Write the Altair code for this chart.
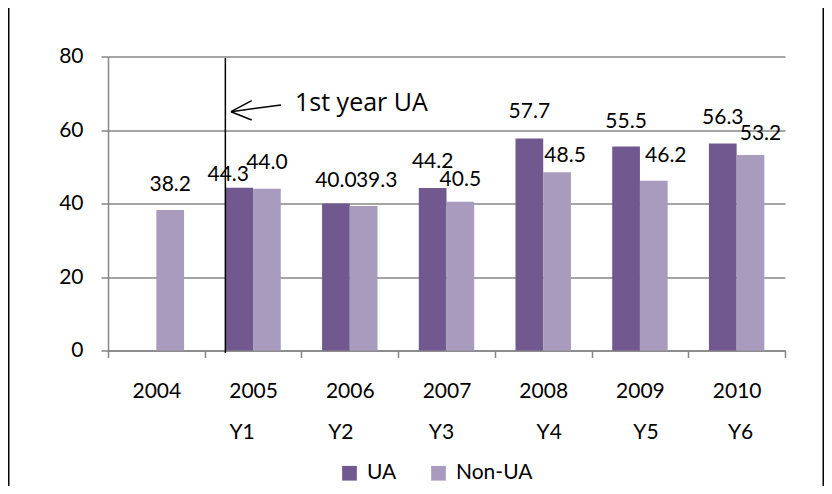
import altair as alt
import pandas as pd

# ---- data ----
years = ["2004", "2005", "2006", "2007", "2008", "2009", "2010"]
ua_values = [None, 44.3, 40.0, 44.2, 57.7, 55.5, 56.3]
non_ua_values = [38.2, 44.0, 39.3, 40.5, 48.5, 46.2, 53.2]
period_labels = ["", "Y1", "Y2", "Y3", "Y4", "Y5", "Y6"]
series_names = ["UA", "Non-UA"]
series_colors = ["#71588F", "#A99BBD"]
annotation_text = "1st year UA"
first_ua_year = "2005"

# hand-placed label nudges (pixels), as in the original Excel chart
ua_label_dx = [0, -11, 0, 0, 0, 0, 0]
ua_label_dy = [-25, -13, -23, -26, -26, -25, -26]
non_ua_label_dx = [0, 0, 13, 0, 8, 12, 10]
non_ua_label_dy = [-25, -26, -25, -22, -16, -25, -21]
period_label_dx = [0, -11, -9, -5, 6, 6, 4]

FONT = "Lato"
GRID = "#868686"

rows = []
for i, y in enumerate(years):
    rows.append({"year": y, "series": "UA", "value": ua_values[i],
                 "ldx": ua_label_dx[i], "ldy": ua_label_dy[i]})
    rows.append({"year": y, "series": "Non-UA", "value": non_ua_values[i],
                 "ldx": non_ua_label_dx[i], "ldy": non_ua_label_dy[i]})
df = pd.DataFrame(rows)
df["label"] = df["value"].map(lambda v: "" if pd.isna(v) else f"{v:.1f}")

period_df = pd.DataFrame({"year": years, "period": period_labels, "pdx": period_label_dx})

x_enc = alt.X(
    "year:N",
    sort=years,
    scale=alt.Scale(paddingInner=0, paddingOuter=0),
    axis=alt.Axis(
        title=None, labelFont=FONT, labelFontSize=21, labelColor="black",
        labelAngle=0, labelBaseline="middle", labelPadding=33.5,
        tickBand="extent", tickSize=7, tickColor=GRID, tickWidth=1.5,
        domainColor=GRID, domainWidth=1.5, grid=False,
    ),
)
xoff = alt.XOffset("series:N", sort=series_names,
                   scale=alt.Scale(domain=series_names, paddingInner=0, paddingOuter=0.745))
y_enc = alt.Y(
    "value:Q",
    scale=alt.Scale(domain=[0, 80], nice=False),
    axis=alt.Axis(
        title=None, values=[0, 20, 40, 60, 80], labelFont=FONT, labelFontSize=21,
        labelColor="black", labelPadding=18, tickSize=7, tickColor=GRID, tickWidth=1.5,
        domainColor=GRID, domainWidth=1.5, grid=True, gridColor=GRID, gridWidth=1.5,
    ),
)

bars = alt.Chart(df).mark_bar().encode(
    x=x_enc,
    xOffset=xoff,
    y=y_enc,
    color=alt.Color(
        "series:N",
        scale=alt.Scale(domain=series_names, range=series_colors),
        legend=alt.Legend(
            title=None, orient="none", direction="horizontal", legendX=231, legendY=406,
            symbolType="square", symbolSize=216, symbolStrokeWidth=0, padding=0,
            labelFont=FONT, labelFontSize=21, labelColor="black", labelOffset=7,
            columnPadding=31,
        ),
    ),
)

labels = alt.Chart(df).mark_text(
    font=FONT, fontSize=21, color="black", baseline="middle", align="center",
    dx=alt.ExprRef(expr="datum.ldx"), dy=alt.ExprRef(expr="datum.ldy"),
).encode(
    x=alt.X("year:N", sort=years),
    xOffset=xoff,
    y=alt.Y("value:Q"),
    text="label:N",
)

period_text = alt.Chart(period_df).mark_text(
    font=FONT, fontSize=21, color="black", baseline="middle", align="center",
    dx=alt.ExprRef(expr="datum.pdx"),
).encode(
    x=alt.X("year:N", sort=years),
    y=alt.value(376),
    text="period:N",
)

first_year_line = alt.Chart(pd.DataFrame({"a": [0]})).mark_rule(
    color="black", strokeWidth=1.5
).encode(
    x=alt.X(datum=first_ua_year, type="nominal", bandPosition=0.2135),
    y=alt.Y(datum=79.6, type="quantitative"),
    y2=alt.Y2(datum=-0.7),
)

annot = alt.Chart(pd.DataFrame({"t": [annotation_text]})).mark_text(
    font="Open Sans", fontSize=25, color="black", align="left", baseline="middle"
).encode(x=alt.value(187), y=alt.value(46.5), text="t:N")

arrow_shaft = alt.Chart(pd.DataFrame({"a": [0]})).mark_rule(color="black", strokeWidth=1.5).encode(
    x=alt.value(173), x2=alt.value(123), y=alt.value(48.5), y2=alt.value(55.2))
arrow_w1 = alt.Chart(pd.DataFrame({"a": [0]})).mark_rule(color="black", strokeWidth=1.5).encode(
    x=alt.value(143.7), x2=alt.value(123), y=alt.value(44.2), y2=alt.value(55.2))
arrow_w2 = alt.Chart(pd.DataFrame({"a": [0]})).mark_rule(color="black", strokeWidth=1.5).encode(
    x=alt.value(143.7), x2=alt.value(123), y=alt.value(63.5), y2=alt.value(55.2))

border_l = alt.Chart(pd.DataFrame({"a": [0]})).mark_rule(color="black", strokeWidth=1.5).encode(
    x=alt.value(-99.25), y=alt.value(-60), y2=alt.value(480))
border_r = alt.Chart(pd.DataFrame({"a": [0]})).mark_rule(color="black", strokeWidth=1.5).encode(
    x=alt.value(715.25), y=alt.value(-60), y2=alt.value(480))

chart = alt.layer(
    bars, labels, period_text, first_year_line, annot, arrow_shaft, arrow_w1, arrow_w2,
    border_l, border_r,
).properties(
    width=677, height=294,
    autosize=alt.AutoSizeParams(type="none"),
    padding={"left": 100, "top": 48.5, "right": 39, "bottom": 135.5},
    background="white",
).configure_view(strokeWidth=0)

chart.save("out.html", embed_options={"renderer": "svg", "actions": False})
